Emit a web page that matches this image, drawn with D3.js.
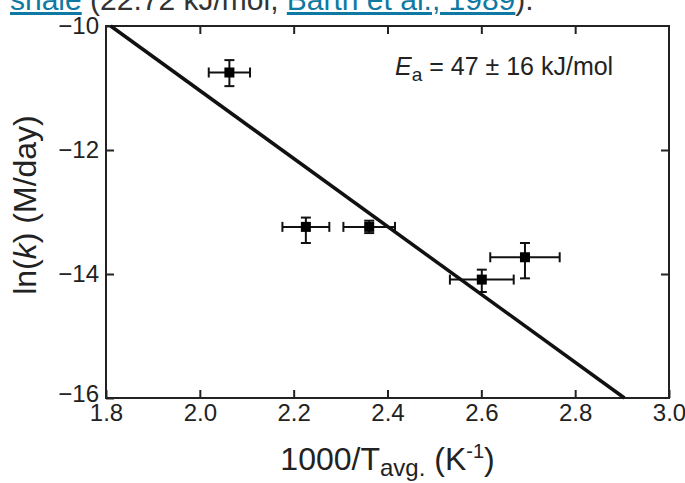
<!DOCTYPE html>
<html>
<head>
<meta charset="utf-8">
<script src="https://cdn.jsdelivr.net/npm/d3@7"></script>
<style>
  body { margin: 0; background: #fff; }
  svg { display: block; font-family: "Liberation Sans", Arial, sans-serif; }
</style>
</head>
<body>
<script>
// measured points: 1000/T, ln(k) with error bars
var invT = [2.063, 2.226, 2.361, 2.601, 2.693];
var invTErr = [0.044, 0.050, 0.055, 0.068, 0.074];
var lnK = [-10.75, -13.24, -13.24, -14.09, -13.73];
var lnKErrUp = [0.20, 0.15, 0.10, 0.16, 0.23];
var lnKErrDown = [0.22, 0.26, 0.10, 0.20, 0.34];

// Arrhenius fit line endpoints
var fitX = [1.81, 2.905];
var fitY = [-10, -16];

var xTicks = [1.8, 2.0, 2.2, 2.4, 2.6, 2.8, 3.0];
var yTicks = [-10, -12, -14, -16];

var width = 685, height = 483;
var margin = {top: 26, right: 16, bottom: 85, left: 106};

var svg = d3.select('body').append('svg')
    .attr('width', width)
    .attr('height', height);

// clipped line of page text above the figure
var cap = svg.append('text')
    .attr('x', 10)
    .attr('y', 10)
    .attr('font-size', 30)
    .attr('fill', '#333');
cap.append('tspan').text('shale').attr('fill', '#0e7aa3').attr('text-decoration', 'underline');
cap.append('tspan').text(' (22.72 kJ/mol, ');
cap.append('tspan').text('Barth et al., 1989').attr('fill', '#0e7aa3').attr('text-decoration', 'underline');
cap.append('tspan').text(').');

var x = d3.scaleLinear().domain([1.8, 3.0]).range([margin.left, width - margin.right]);
var y = d3.scaleLinear().domain([-16, -10]).range([height - margin.bottom, margin.top]);

var g = svg.append('g');

// axes with inward ticks
var tickLen = 8;
var fmtX = d3.format('.1f');
var fmtY = d3.format('d');

g.append('g')
    .attr('class', 'axis')
    .attr('transform', 'translate(0,' + y(-16) + ')')
    .call(d3.axisBottom(x).tickValues(xTicks).tickFormat(fmtX).tickSizeInner(-tickLen).tickSizeOuter(0).tickPadding(6));
g.append('g')
    .attr('class', 'axis')
    .attr('transform', 'translate(0,' + y(-10) + ')')
    .call(d3.axisTop(x).tickValues(xTicks.slice(1, -1)).tickFormat('').tickSizeInner(-tickLen).tickSizeOuter(0));
var yAxis = g.append('g')
    .attr('class', 'axis')
    .attr('transform', 'translate(' + x(1.8) + ',0)')
    .call(d3.axisLeft(y).tickValues(yTicks).tickFormat(fmtY).tickSizeInner(-tickLen).tickSizeOuter(0).tickPadding(7));
g.append('g')
    .attr('class', 'axis')
    .attr('transform', 'translate(' + x(3.0) + ',0)')
    .call(d3.axisRight(y).tickValues(yTicks.slice(1, -1)).tickFormat('').tickSizeInner(-tickLen).tickSizeOuter(0));

g.selectAll('.axis .domain').remove();
g.selectAll('.axis line').attr('stroke', '#222').attr('stroke-width', 2);
g.selectAll('.axis text')
    .attr('font-size', 24)
    .attr('fill', '#222')
    .attr('font-family', '"Liberation Sans", Arial, sans-serif');
// lift the bottom y label a little so it clears the x labels
yAxis.selectAll('.tick text').filter(function(d) { return d === -16; }).attr('y', -4);

// frame
g.append('rect')
    .attr('x', x(1.8))
    .attr('y', y(-10))
    .attr('width', x(3.0) - x(1.8))
    .attr('height', y(-16) - y(-10))
    .attr('fill', 'none')
    .attr('stroke', '#222')
    .attr('stroke-width', 2);

// fit line
g.append('line')
    .attr('x1', x(fitX[0])).attr('y1', y(fitY[0]))
    .attr('x2', x(fitX[1])).attr('y2', y(fitY[1]))
    .attr('stroke', '#111')
    .attr('stroke-width', 3.5);

// error bars and markers
var pts = invT.map(function(v, i) {
    return {x: v, xe: invTErr[i], y: lnK[i], yu: lnKErrUp[i], yd: lnKErrDown[i]};
});
var capH = 5;
var pg = g.selectAll('.pt').data(pts).enter().append('g').attr('class', 'pt');

pg.append('line')
    .attr('x1', function(d) { return x(d.x - d.xe); })
    .attr('x2', function(d) { return x(d.x + d.xe); })
    .attr('y1', function(d) { return y(d.y); })
    .attr('y2', function(d) { return y(d.y); });
pg.append('line')
    .attr('x1', function(d) { return x(d.x); })
    .attr('x2', function(d) { return x(d.x); })
    .attr('y1', function(d) { return y(d.y + d.yu); })
    .attr('y2', function(d) { return y(d.y - d.yd); });
pg.append('line')
    .attr('x1', function(d) { return x(d.x - d.xe); })
    .attr('x2', function(d) { return x(d.x - d.xe); })
    .attr('y1', function(d) { return y(d.y) - capH; })
    .attr('y2', function(d) { return y(d.y) + capH; });
pg.append('line')
    .attr('x1', function(d) { return x(d.x + d.xe); })
    .attr('x2', function(d) { return x(d.x + d.xe); })
    .attr('y1', function(d) { return y(d.y) - capH; })
    .attr('y2', function(d) { return y(d.y) + capH; });
pg.append('line')
    .attr('x1', function(d) { return x(d.x) - capH; })
    .attr('x2', function(d) { return x(d.x) + capH; })
    .attr('y1', function(d) { return y(d.y + d.yu); })
    .attr('y2', function(d) { return y(d.y + d.yu); });
pg.append('line')
    .attr('x1', function(d) { return x(d.x) - capH; })
    .attr('x2', function(d) { return x(d.x) + capH; })
    .attr('y1', function(d) { return y(d.y - d.yd); })
    .attr('y2', function(d) { return y(d.y - d.yd); });
pg.selectAll('line').attr('stroke', '#111').attr('stroke-width', 2);

pg.append('rect')
    .attr('x', function(d) { return x(d.x) - 5; })
    .attr('y', function(d) { return y(d.y) - 5; })
    .attr('width', 10)
    .attr('height', 10)
    .attr('fill', '#000');

// annotation
var ann = g.append('text')
    .attr('x', 395)
    .attr('y', 75)
    .attr('font-size', 25)
    .attr('fill', '#222');
ann.append('tspan').text('E').attr('font-style', 'italic');
ann.append('tspan').text('a').attr('font-size', 19).attr('dy', 6);
ann.append('tspan').text(' = 47 ± 16 kJ/mol').attr('dy', -6);

// axis titles
var xt = svg.append('text')
    .attr('x', (x(1.8) + x(3.0)) / 2)
    .attr('y', 470)
    .attr('text-anchor', 'middle')
    .attr('font-size', 32)
    .attr('fill', '#222');
xt.append('tspan').text('1000/T');
xt.append('tspan').text('avg.').attr('font-size', 24).attr('dy', 6);
xt.append('tspan').text(' (K').attr('dy', -6);
xt.append('tspan').text('-1').attr('font-size', 20).attr('dy', -12);
xt.append('tspan').text(')').attr('dy', 12);

var yt = svg.append('text')
    .attr('transform', 'translate(36,' + ((y(-10) + y(-16)) / 2 - 7) + ') rotate(-90)')
    .attr('text-anchor', 'middle')
    .attr('font-size', 32)
    .attr('fill', '#222');
yt.append('tspan').text('ln(');
yt.append('tspan').text('k').attr('font-style', 'italic');
yt.append('tspan').text(') (M/day)');
</script>
</body>
</html>
